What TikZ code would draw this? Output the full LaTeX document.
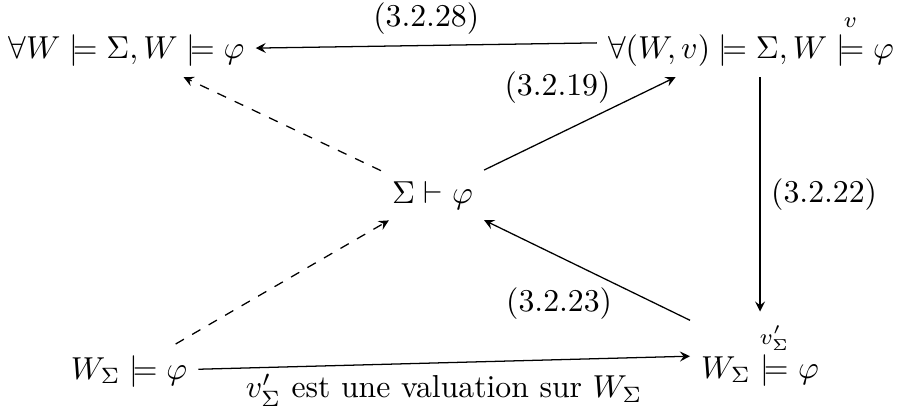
\documentclass[tikz,border=0pt]{standalone}
\usepackage{amsmath,amssymb}
\begin{document}
\begin{tikzpicture}[x=0.315pt,y=-0.315pt,
  stmt/.style={anchor=base},
  arr/.style={->,>=stealth},
  darr/.style={->,>=stealth,dashed},
  lbl/.style={inner sep=1pt}]
\useasboundingbox (0,0) rectangle (903,410);
\node[stmt] (tl) at (126.5,58) {$\forall W \models \Sigma, W \models \varphi$};
\node[stmt] (tr) at (751,58) {$\forall (W,v) \models \Sigma, W \stackrel{v}{\models} \varphi$};
\node[stmt] (c) at (432.5,203) {$\Sigma \vdash \varphi$};
\node[stmt] (bl) at (129,379) {$W_\Sigma \models \varphi$};
\node[stmt] (br) at (760,378) {$W_\Sigma \stackrel{v'_\Sigma}{\models} \varphi$};
\draw[arr] (tr) -- node[above] {$(3.2.28)$} (tl);
\draw[darr] (c) -- (tl);
\draw[arr] (c) -- node[lbl,pos=0.68,anchor=south east] {$(3.2.19)$} (tr);
\draw[arr] (tr.south -| br.north) -- node[right] {$(3.2.22)$} (br.north);
\draw[arr] (br) -- node[lbl,pos=0.36,anchor=north east] {$(3.2.23)$} (c);
\draw[darr] (bl) -- (c);
\draw[arr] (bl) -- node[below] {$v'_\Sigma$ est une valuation sur $W_\Sigma$} (br);
\end{tikzpicture}
\end{document}
